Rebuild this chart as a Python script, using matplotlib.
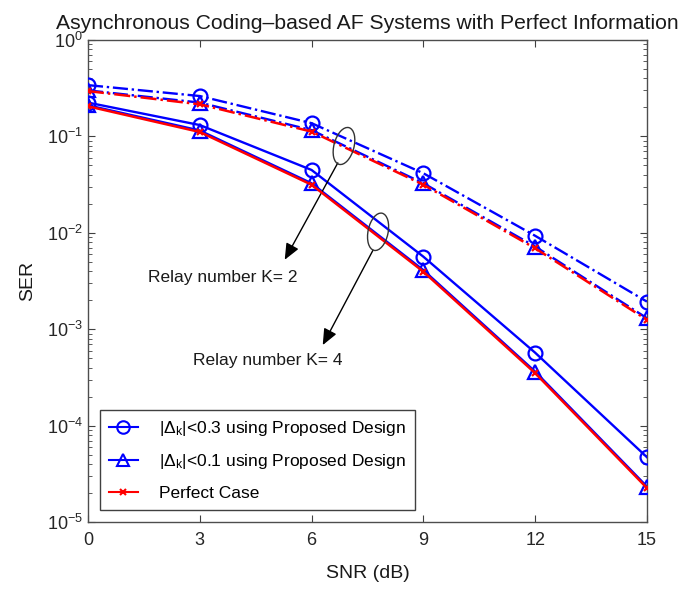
import matplotlib
matplotlib.use("Agg")
import matplotlib.pyplot as plt
import matplotlib.transforms as mtransforms
from matplotlib.patches import Ellipse
from matplotlib.lines import Line2D
from matplotlib.ticker import LogLocator, NullFormatter

plt.rcParams['font.family'] = ['Liberation Sans', 'DejaVu Sans']
plt.rcParams['mathtext.fontset'] = 'custom'
plt.rcParams['mathtext.rm'] = 'Liberation Sans'
plt.rcParams['mathtext.it'] = 'Liberation Sans:italic'

# SNR points (dB)
snr = [0, 3, 6, 9, 12, 15]

# K = 2 relays (dash-dot curves)
k2_err03 = [0.34, 0.262, 0.137, 0.0414, 0.0093, 0.00193]
k2_err01 = [0.30, 0.224, 0.116, 0.0326, 0.0072, 0.0013]
k2_perfect = [0.295, 0.215, 0.112, 0.0315, 0.0069, 0.00125]

# K = 4 relays (solid curves)
k4_err03 = [0.224, 0.131, 0.0448, 0.00565, 0.00057, 4.7e-5]
k4_err01 = [0.21, 0.115, 0.0326, 0.0041, 0.000363, 2.33e-5]
k4_perfect = [0.205, 0.111, 0.0315, 0.00395, 0.00035, 2.25e-5]

legend_labels = [r'|$\Delta_{\mathrm{k}}$|<0.3 using Proposed Design',
                 r'|$\Delta_{\mathrm{k}}$|<0.1 using Proposed Design',
                 'Perfect Case']

fig = plt.figure(figsize=(6.9, 5.91), dpi=100)
ax = fig.add_axes([0.1275, 0.1168, 0.8101, 0.8156])

blue = (0, 0, 1)
red = (1, 0, 0)

for ls, e03, e01, perf in [('-.', k2_err03, k2_err01, k2_perfect),
                           ('-', k4_err03, k4_err01, k4_perfect)]:
    ax.plot(snr, e03, color=blue, ls=ls, lw=1.7, marker='o', ms=10,
            mfc='none', mew=1.6, zorder=3)
    ax.plot(snr, e01, color=blue, ls=ls, lw=1.7, marker='^', ms=10,
            mfc='none', mew=1.6, zorder=3)
    ax.plot(snr, perf, color=red, ls=ls, lw=1.8, marker='x', ms=5,
            mew=1.6, zorder=4)

ax.set_yscale('log')
ax.set_xlim(0, 15)
ax.set_ylim(1e-5, 1)
ax.set_xticks(snr)
ax.yaxis.set_major_locator(LogLocator(base=10, numticks=10))
ax.yaxis.set_minor_locator(LogLocator(base=10, subs=range(2, 10), numticks=10))
ax.yaxis.set_minor_formatter(NullFormatter())
ax.tick_params(which='both', direction='in', top=True, right=True,
               colors='0.25', labelcolor='0.15', labelsize=13)
ax.tick_params(which='major', length=5)
ax.tick_params(which='minor', length=3)
ax.tick_params(axis='x', pad=7)
for sp in ax.spines.values():
    sp.set_color('0.3')
    sp.set_linewidth(1.0)

ax.set_title('Asynchronous Coding\u2013based AF Systems with Perfect Information',
             fontsize=15.2, color='0.1', pad=8)
ax.set_xlabel('SNR (dB)', fontsize=14, color='0.1', labelpad=12)
ax.set_ylabel('SER', fontsize=14, color='0.1', labelpad=8)

# ellipses marking the curve groups
for cx, cy, ang in [(0.458, 0.780, -15), (0.519, 0.602, -12)]:
    tr = fig.dpi_scale_trans + mtransforms.ScaledTranslation(cx, cy, ax.transAxes)
    ax.add_patch(Ellipse((0, 0), 0.2, 0.38, angle=ang, fill=False,
                         edgecolor='0.2', lw=1.0, transform=tr, zorder=5))

arrow = dict(arrowstyle='-|>,head_length=0.7,head_width=0.3', color='k',
             lw=1.0, shrinkA=0, shrinkB=0, mutation_scale=14)
ax.annotate('', xy=(0.352, 0.544), xytext=(0.447, 0.745),
            xycoords='axes fraction', arrowprops=arrow)
ax.annotate('', xy=(0.420, 0.367), xytext=(0.510, 0.564),
            xycoords='axes fraction', arrowprops=arrow)
ax.text(0.374, 0.508, 'Relay number K= 2', transform=ax.transAxes,
        ha='right', va='center', fontsize=12.5, color='0.1')
ax.text(0.456, 0.336, 'Relay number K= 4', transform=ax.transAxes,
        ha='right', va='center', fontsize=12.5, color='0.1')

handles = [Line2D([], [], color=blue, lw=1.5, marker='o', ms=9, mfc='none', mew=1.5),
           Line2D([], [], color=blue, lw=1.5, marker='^', ms=9, mfc='none', mew=1.5),
           Line2D([], [], color=red, lw=1.5, marker='x', ms=5, mew=1.5)]
leg = ax.legend(handles, legend_labels, loc='lower left',
                bbox_to_anchor=(0.0215, 0.0249), borderaxespad=0,
                fontsize=12.5, handlelength=1.7, handletextpad=1.2,
                labelspacing=0.85, borderpad=0.5, fancybox=False, framealpha=1)
leg.get_frame().set_edgecolor('0.25')
leg.get_frame().set_linewidth(1.0)

fig.savefig('out.png', dpi=100)
